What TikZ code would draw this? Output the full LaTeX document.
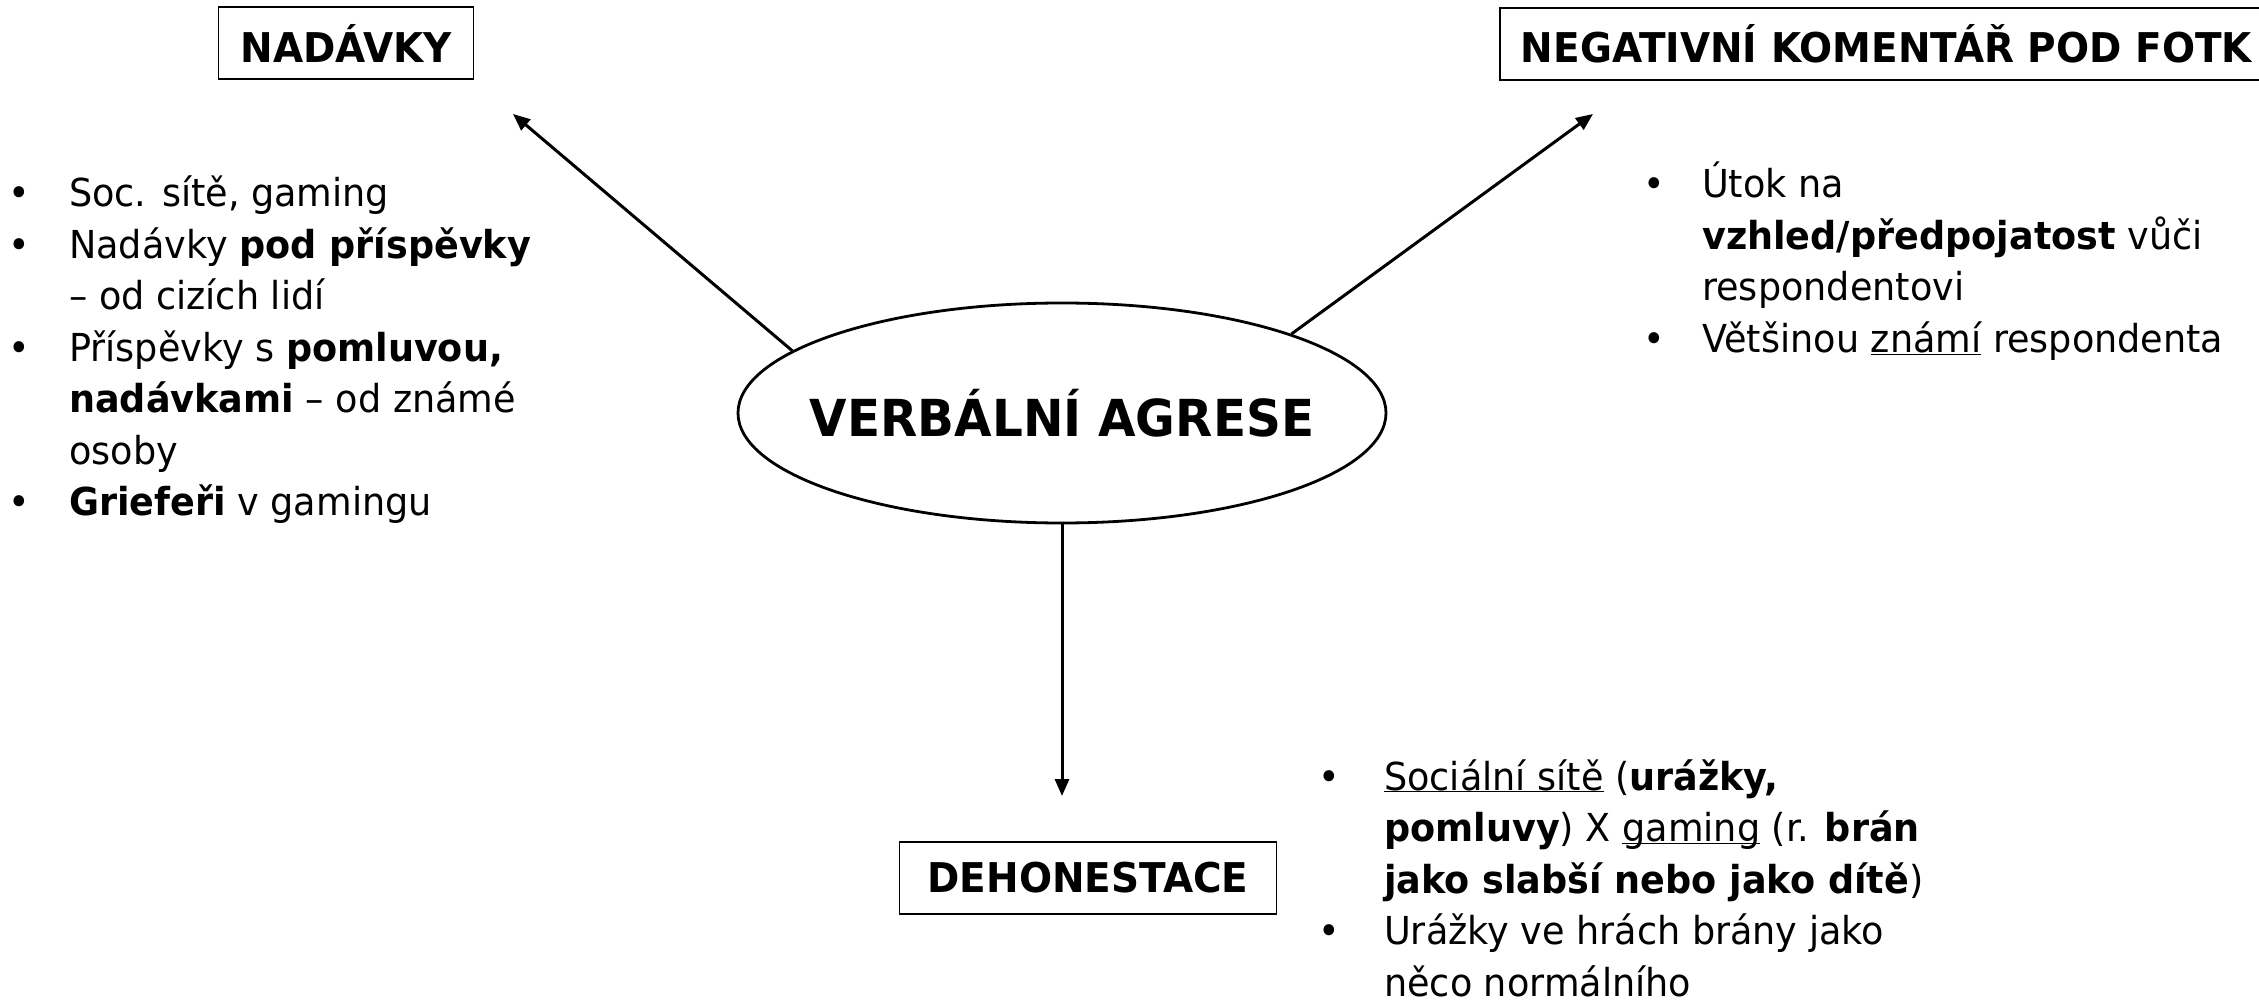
\documentclass[tikz,border=0pt]{standalone}
\usepackage{fontspec}
\setmainfont{DejaVu Sans}[FakeStretch=0.95]
\usetikzlibrary{shapes.geometric,arrows.meta}
\newcommand{\undl}[1]{\underline{\smash{#1}}}
\tikzset{
  head/.style={draw,line width=1.6pt,inner sep=0pt,minimum height=72pt,font=\fontsize{41}{48}\selectfont\bfseries},
  con/.style={line width=3pt,-{Triangle[length=17pt,width=14pt]}},
  list/.style={anchor=base west,inner sep=0pt,font=\fontsize{38.5}{51.5}\selectfont}
}
\begin{document}
\begin{tikzpicture}[x=1pt,y=-1pt]
\path[use as bounding box,fill=white] (0,0) rectangle (2259,1000);
\node [ellipse,draw,line width=2.8pt,minimum width=648pt,minimum height=220pt,inner sep=0pt,font=\fontsize{51}{60}\selectfont\bfseries] (verb) at (1062,413) {\makebox[0pt]{VERBÁLNÍ AGRESE}};
\node [head,minimum width=255pt] (nadavky) at (346,43) {NADÁVKY};
\node [head,anchor=west,text width=900pt,inner xsep=21pt,align=left] (koment) at (1499,44) {NEGATIVNÍ KOMENTÁŘ POD FOTK};
\node [head,minimum width=377pt] (dehon) at (1088,878) {DEHONESTACE};
\coordinate (nadTip) at (513,114);
\coordinate (komTip) at (1593,114);
\coordinate (dehTip) at (1062,796);
\draw [con] (verb.167) -- (nadTip);
\draw [con] (verb.19) -- (komTip);
\draw [con] (verb.south) -- (dehTip);
\node [list] (nadList) at (8,207) {\begin{tabular}[t]{@{}p{61pt}@{}l@{}}
\textbullet & Soc. sítě, gaming\\
\textbullet & Nadávky \textbf{pod příspěvky}\\
 & – od cizích lidí\\
\textbullet & Příspěvky s \textbf{pomluvou,}\\
 & \textbf{nadávkami} – od známé\\
 & osoby\\
\textbullet & \textbf{Griefeři} v gamingu
\end{tabular}};
\node [list] (komList) at (1643,198) {\begin{tabular}[t]{@{}p{59pt}@{}l@{}}
\textbullet & Útok na\\
 & \textbf{vzhled/předpojatost} vůči\\
 & respondentovi\\
\textbullet & Většinou \undl{známí} respondenta
\end{tabular}};
\node [list] (dehList) at (1318,790) {\begin{tabular}[t]{@{}p{66pt}@{}l@{}}
\textbullet & \undl{Sociální sítě} (\textbf{urážky,}\\
 & \textbf{pomluvy}) X \undl{gaming} (r. \textbf{brán}\\
 & \textbf{jako slabší nebo jako dítě})\\
\textbullet & Urážky ve hrách brány jako\\
 & něco normálního
\end{tabular}};
\end{tikzpicture}
\end{document}
